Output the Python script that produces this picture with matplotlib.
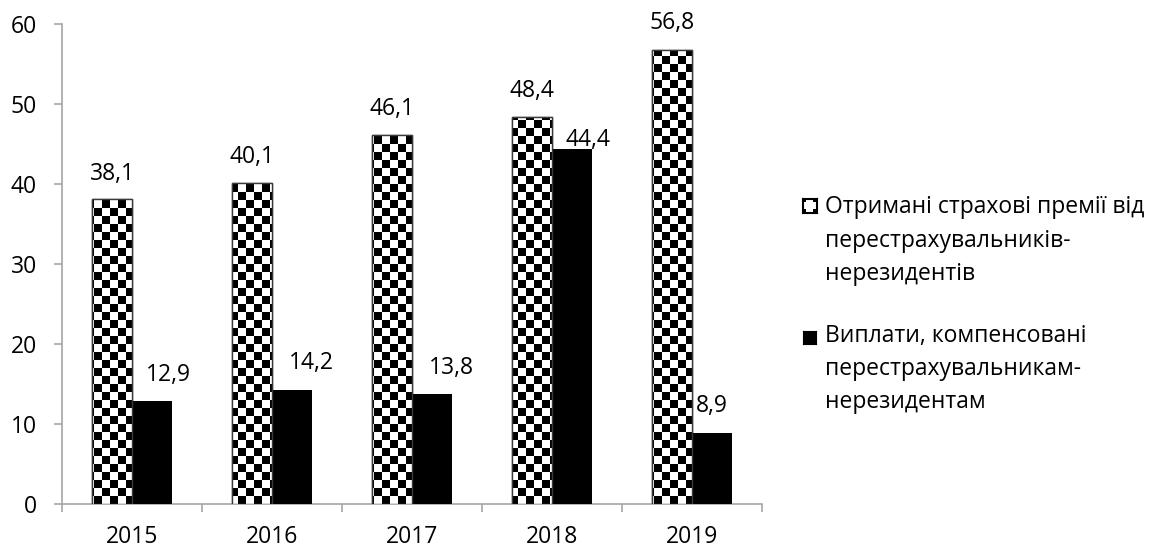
import numpy as np
import matplotlib
matplotlib.use("Agg")
import matplotlib.pyplot as plt
from matplotlib.path import Path

plt.rcParams['font.family'] = ['Open Sans', 'DejaVu Sans']

years = ['2015', '2016', '2017', '2018', '2019']
premiums = [38.1, 40.1, 46.1, 48.4, 56.8]
payouts = [12.9, 14.2, 13.8, 44.4, 8.9]
legend_labels = [
    ['Отримані страхові премії від', 'перестрахувальників-', 'нерезидентів'],
    ['Виплати, компенсовані', 'перестрахувальникам-', 'нерезидентам'],
]
yticks = [0, 10, 20, 30, 40, 50, 60]

# label offsets in pixels (dx, dy of label centre from bar top-centre)
prem_label_off = [(0, 25), (0, 26), (0, 26), (0, 26), (0, 27)]
pay_label_off = [(16, 26), (20, 27), (20, 26), (16, 9), (0, 27)]

W, H, DPI = 1150, 548, 100
fig = plt.figure(figsize=(W / DPI, H / DPI), dpi=DPI)
ax_l, ax_r, ax_t, ax_b = 62, 761.5, 24, 504
ax = fig.add_axes([ax_l / W, 1 - ax_b / H, (ax_r - ax_l) / W, (ax_b - ax_t) / H])

n = len(years)
x = np.arange(n)
bw = 0.2857
grey = '#A6A6A6'

ax.set_xlim(-0.5, n - 0.5)
ax.set_ylim(0, 60)

# black bars
bars_pay = ax.bar(x + bw / 2, payouts, bw, color='black', zorder=3)
# checkered bars: white face, clipped checker image, outline on top
bars_prem = ax.bar(x - bw / 2, premiums, bw, facecolor='white', edgecolor='#3a3a3a',
                   linewidth=1.0, zorder=2)
ax.bar(x - bw / 2, premiums, bw, facecolor='none', edgecolor='#3a3a3a',
       linewidth=1.0, zorder=4)

cell = 8.0
ncols = int(np.ceil((ax_r - ax_l) / cell))
nrows = int(np.ceil((ax_b - ax_t) / cell))
board = (np.add.outer(np.arange(nrows), np.arange(ncols)) % 2).astype(float)
x0, x1 = ax.get_xlim()
xr = x0 + (x1 - x0) * ncols * cell / (ax_r - ax_l)
yr = 60 * nrows * cell / (ax_b - ax_t)
img = ax.imshow(board, cmap='gray', vmin=0, vmax=1, interpolation='nearest',
                extent=(x0, xr, yr, 0), origin='upper', aspect='auto', zorder=3)
paths = [b.get_path().transformed(b.get_patch_transform()) for b in bars_prem]
img.set_clip_path(Path.make_compound_path(*paths), ax.transData)
ax.set_xlim(-0.5, n - 0.5)
ax.set_ylim(0, 60)

fs = 16.5
px = 72.0 / DPI
for i in range(n):
    dx, dy = prem_label_off[i]
    ax.annotate(f'{premiums[i]:.1f}'.replace('.', ','), (x[i] - bw / 2, premiums[i]),
                xytext=(dx * px, dy * px), textcoords='offset points',
                ha='center', va='center', fontsize=fs, zorder=5)
    dx, dy = pay_label_off[i]
    ax.annotate(f'{payouts[i]:.1f}'.replace('.', ','), (x[i] + bw / 2, payouts[i]),
                xytext=(dx * px, dy * px), textcoords='offset points',
                ha='center', va='center', fontsize=fs, zorder=5)

for s in ['top', 'right']:
    ax.spines[s].set_visible(False)
for s in ['left', 'bottom']:
    ax.spines[s].set_color(grey)
    ax.spines[s].set_linewidth(1.2)

ax.set_yticks(yticks)
ax.set_yticklabels([str(v) for v in yticks], fontsize=fs)
ax.tick_params(axis='y', direction='out', length=8 * px, width=1.2, color=grey,
               pad=17 * px)
ax.set_xticks(np.arange(n + 1) - 0.5)
ax.set_xticklabels([''] * (n + 1))
ax.tick_params(axis='x', which='major', direction='out', length=8 * px, width=1.2, color=grey)
ax.set_xticks(x, minor=True)
ax.set_xticklabels(years, minor=True, fontsize=fs)
ax.tick_params(axis='x', which='minor', length=0, pad=21 * px)

# legend (manual)
text_x = 825
baselines = [[213, 247, 280], [342, 375, 408]]
for lines, bls in zip(legend_labels, baselines):
    for t, b in zip(lines, bls):
        fig.text(text_x / W, 1 - b / H, t, fontsize=fs, va='baseline', ha='left')

# legend markers
m1 = fig.add_axes([803 / W, 1 - 213 / H, 14 / W, 14 / H])
m1.imshow(np.array([[0, 1, 1, 0], [1, 1, 1, 1], [1, 1, 1, 1], [0, 1, 1, 0]], float),
          cmap='gray', vmin=0, vmax=1, interpolation='nearest', aspect='auto')
m1.set_xticks([]); m1.set_yticks([])
for s in m1.spines.values():
    s.set_color('black'); s.set_linewidth(1.5)
m2 = fig.add_axes([803 / W, 1 - 344 / H, 13 / W, 13 / H])
m2.set_facecolor('black')
m2.set_xticks([]); m2.set_yticks([])
for s in m2.spines.values():
    s.set_color('black')

fig.savefig('out.png', dpi=DPI)
